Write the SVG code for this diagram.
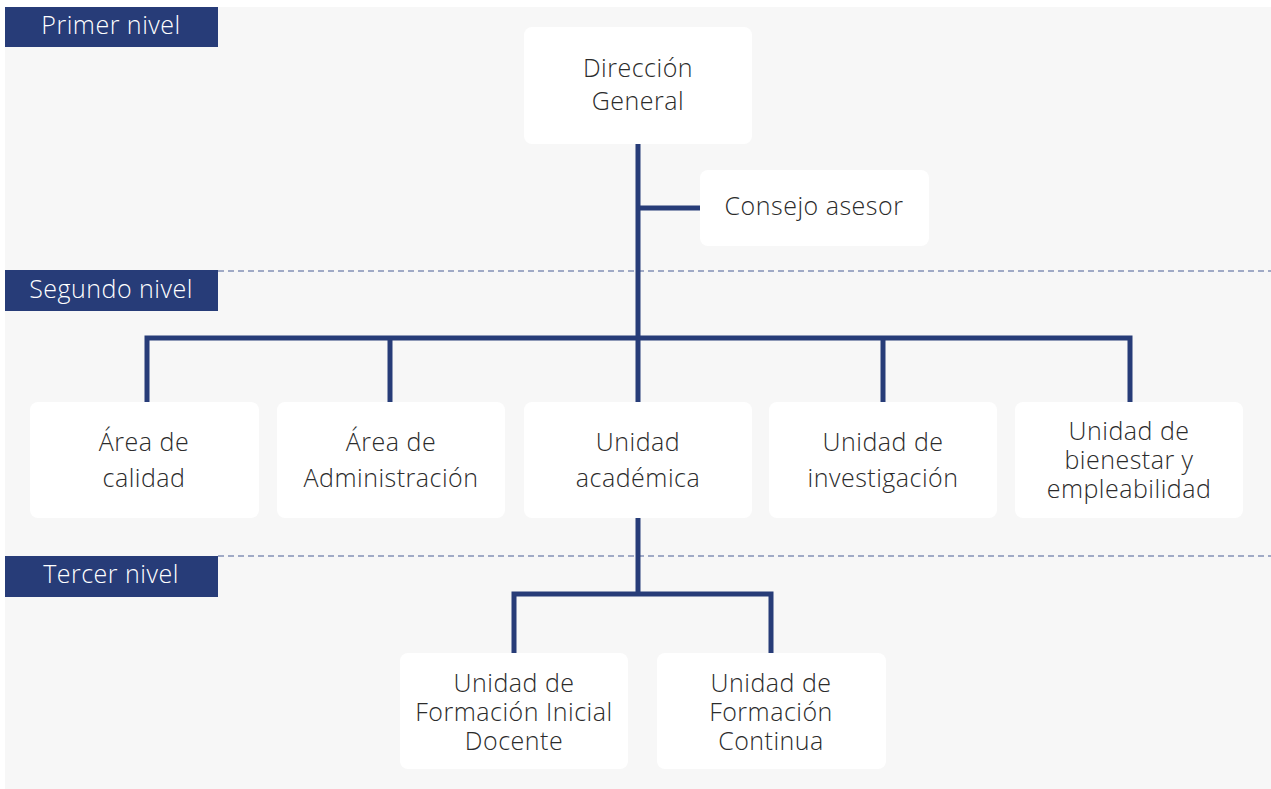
<svg xmlns="http://www.w3.org/2000/svg" width="1271" height="789" viewBox="0 0 1271 789">
<style>
.node{fill:#ffffff}
.t{font-family:"Open Sans","Liberation Sans",sans-serif;font-size:25px;font-weight:300;letter-spacing:0.5px;fill:#2b2b2b;text-anchor:middle}
.bt{font-family:"Open Sans","Liberation Sans",sans-serif;font-size:25px;font-weight:300;letter-spacing:0.5px;fill:#ffffff;text-anchor:middle}
.band{fill:#273c78}
.c{stroke:#273c78;stroke-width:5;fill:none;stroke-linecap:butt;stroke-linejoin:miter}
.dash{stroke:#4a5f96;stroke-width:1.2;stroke-dasharray:6 4;fill:none}
</style>
<rect x="0" y="0" width="1271" height="789" fill="#ffffff"/>
<rect x="5" y="7" width="1266" height="782" fill="#f7f7f7"/>
<g id="levels">
<line class="dash" x1="218" y1="271" x2="1271" y2="271"/>
<line class="dash" x1="218" y1="556" x2="1271" y2="556"/>
<g id="level1"><rect class="band" x="5" y="7" width="213" height="40"/><text class="bt" x="111" y="34">Primer nivel</text></g>
<g id="level2"><rect class="band" x="5" y="270" width="213" height="41"/><text class="bt" x="111" y="298">Segundo nivel</text></g>
<g id="level3"><rect class="band" x="5" y="556" width="213" height="41"/><text class="bt" x="111" y="583">Tercer nivel</text></g>
</g>
<g id="connectors">
<path class="c" d="M638 144 V402"/>
<path class="c" d="M638 208 H700"/>
<path class="c" d="M147 402 V338 H1130 V402"/>
<path class="c" d="M390 338 V402"/>
<path class="c" d="M883 338 V402"/>
<path class="c" d="M638 518 V594"/>
<path class="c" d="M514 653 V594 H771 V653"/>
</g>
<g id="direccion"><rect class="node" x="524" y="27" width="228" height="117" rx="8"/><text class="t" x="638" y="77">Dirección</text><text class="t" x="638" y="110">General</text></g>
<g id="consejo"><rect class="node" x="700" y="170" width="229" height="76" rx="8"/><text class="t" x="814" y="215">Consejo asesor</text></g>
<g id="calidad"><rect class="node" x="30" y="402" width="229" height="116" rx="8"/><text class="t" x="144" y="451">Área de</text><text class="t" x="144" y="487">calidad</text></g>
<g id="administracion"><rect class="node" x="277" y="402" width="228" height="116" rx="8"/><text class="t" x="391" y="451">Área de</text><text class="t" x="391" y="487">Administración</text></g>
<g id="academica"><rect class="node" x="524" y="402" width="228" height="116" rx="8"/><text class="t" x="638" y="451">Unidad</text><text class="t" x="638" y="487">académica</text></g>
<g id="investigacion"><rect class="node" x="769" y="402" width="228" height="116" rx="8"/><text class="t" x="883" y="451">Unidad de</text><text class="t" x="883" y="487">investigación</text></g>
<g id="bienestar"><rect class="node" x="1015" y="402" width="228" height="116" rx="8"/><text class="t" x="1129" y="440">Unidad de</text><text class="t" x="1129" y="469">bienestar y</text><text class="t" x="1129" y="498">empleabilidad</text></g>
<g id="inicial"><rect class="node" x="400" y="653" width="228" height="116" rx="8"/><text class="t" x="514" y="692">Unidad de</text><text class="t" x="514" y="721">Formación Inicial</text><text class="t" x="514" y="750">Docente</text></g>
<g id="continua"><rect class="node" x="657" y="653" width="229" height="116" rx="8"/><text class="t" x="771" y="692">Unidad de</text><text class="t" x="771" y="721">Formación</text><text class="t" x="771" y="750">Continua</text></g>
</svg>
